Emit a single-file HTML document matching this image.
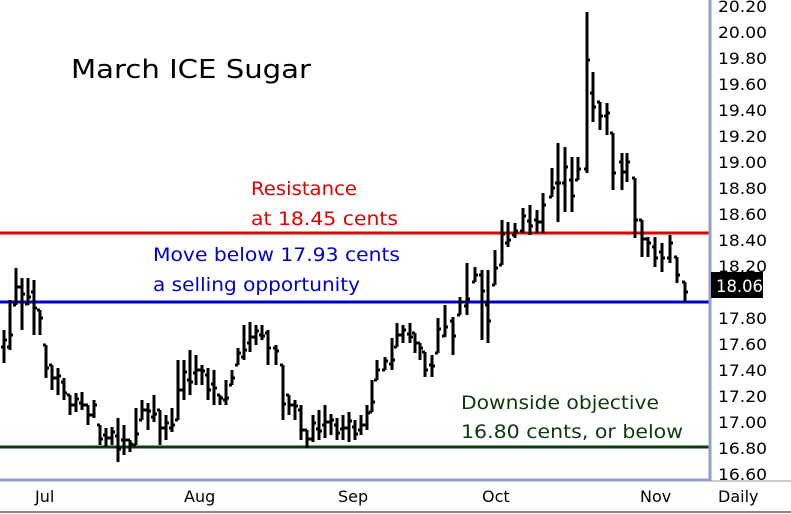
<!DOCTYPE html>
<html><head><meta charset="utf-8"><style>
body{margin:0;background:#fff;}
svg{display:block;font-family:"DejaVu Sans","Liberation Sans",sans-serif;}
</style></head><body>
<svg id="s" width="791" height="514" viewBox="0 0 791 514">
<rect width="791" height="514" fill="#fff"/>
<line x1="0" y1="233" x2="709" y2="233" stroke="#e00000" stroke-width="3"/>
<line x1="0" y1="302" x2="709" y2="302" stroke="#0000cc" stroke-width="3"/>
<line x1="0" y1="447" x2="709" y2="447" stroke="#0b3b0b" stroke-width="3"/>
<g id="bars" stroke="#000" stroke-width="3" fill="none"></g>
<line x1="710" y1="0" x2="710" y2="481" stroke="#8fa0c8" stroke-width="3"/>
<line x1="0" y1="480" x2="711" y2="480" stroke="#8fa0c8" stroke-width="3"/>
<line x1="711" y1="481" x2="791" y2="481" stroke="#999" stroke-width="1"/>
<line x1="0" y1="512" x2="791" y2="512" stroke="#888" stroke-width="2"/>
<g id="ax" font-size="16" fill="#000"></g>
<rect x="711" y="272" width="52" height="26" fill="#000"/>
<text x="716" y="292" font-size="17" fill="#fff" textLength="47" lengthAdjust="spacingAndGlyphs">18.06</text>
<text x="71" y="78" font-size="26" fill="#000" textLength="240" lengthAdjust="spacingAndGlyphs">March ICE Sugar</text>
<text x="251" y="195" font-size="19" fill="#e00000" textLength="106" lengthAdjust="spacingAndGlyphs">Resistance</text>
<text x="251" y="225" font-size="19" fill="#e00000" textLength="147" lengthAdjust="spacingAndGlyphs">at 18.45 cents</text>
<text x="153" y="261" font-size="19" fill="#0000cc" textLength="247" lengthAdjust="spacingAndGlyphs">Move below 17.93 cents</text>
<text x="153" y="291" font-size="19" fill="#0000cc" textLength="207" lengthAdjust="spacingAndGlyphs">a selling opportunity</text>
<text x="461" y="409" font-size="19" fill="#0b3b0b" textLength="198" lengthAdjust="spacingAndGlyphs">Downside objective</text>
<text x="461" y="438" font-size="19" fill="#0b3b0b" textLength="222" lengthAdjust="spacingAndGlyphs">16.80 cents, or below</text>
<g font-size="16" fill="#000">
<text x="35" y="502">Jul</text><text x="184" y="502">Aug</text><text x="338" y="502">Sep</text>
<text x="482" y="502">Oct</text><text x="640" y="502">Nov</text><text x="718" y="502">Daily</text>
</g>
</svg>
<script>
var ax=document.getElementById('ax'),h='';
for(var i=0;i<=18;i++){if(i==11)continue;var p=20.2-i*0.2;var y=6+i*26;h+='<text x="718" y="'+(y+6)+'" textLength="49" lengthAdjust="spacingAndGlyphs">'+p.toFixed(2)+'</text>';}
ax.innerHTML=h;
var A=[[4,330,363],[10,300,350],[16,268,305],[22,278,330],[28,278,305],[34,280,335],[40,310,335],[46,345,378],[52,365,390],[58,368,395],[64,378,400],[70,395,415],[76,393,412],[82,392,410],[88,405,425],[94,400,418],[100,425,445],[106,428,447],[112,427,445],[118,418,462],[124,425,455],[130,440,452],[136,408,445],[142,400,420],[148,403,430],[154,395,422],[160,410,445],[166,415,440],[172,408,432],[178,360,420],[184,360,400],[190,350,395],[196,355,385],[202,365,385],[208,368,400],[214,370,405],[220,395,405],[226,380,405],[232,370,385],[238,348,365],[244,325,360],[250,322,352],[256,325,345],[262,325,340],[268,330,365],[276,345,365],[283,365,420],[289,395,415],[295,400,420],[301,405,440],[307,430,448],[313,415,442],[319,410,440],[325,405,438],[331,414,435],[337,418,440],[343,415,440],[349,412,442],[355,420,440],[361,415,435],[367,405,430],[372,380,412],[377,360,380],[385,357,370],[392,338,370],[397,323,347],[403,325,343],[410,323,343],[415,333,353],[420,343,360],[425,352,377],[432,355,377],[438,318,353],[445,305,337],[453,317,355],[460,297,315],[467,263,315],[475,267,282],[482,270,340],[488,270,343],[495,250,285],[502,220,265],[508,222,247],[515,223,238],[523,208,233],[530,205,235],[537,210,233],[543,193,233],[552,168,197],[558,143,222],[565,147,212],[572,157,212],[578,157,180],[587,12,173],[593,72,122],[600,102,130],[607,103,135],[613,133,190],[622,153,190],[627,153,182],[635,178,238],[642,220,257],[648,237,257],[655,237,267],[662,243,272],[670,235,263],[677,257,283],[685,282,302]];
var d='';
for(var i=0;i<A.length;i++){var b=A[i],x=b[0],hi=b[1],lo=b[2];
var o=i>0?Math.max(hi,Math.min(lo,(A[i-1][1]+A[i-1][2])/2)):(hi+lo)/2;
var c=(i%3==0)?hi+(lo-hi)*0.3:(i%3==1?hi+(lo-hi)*0.7:(hi+lo)/2);
d+='M'+x+' '+hi+'V'+lo+'M'+(x-3)+' '+o.toFixed(0)+'H'+x+'M'+x+' '+c.toFixed(0)+'H'+(x+3);}
document.getElementById('bars').innerHTML='<path d="'+d+'"/>';
</script>
</body></html>
